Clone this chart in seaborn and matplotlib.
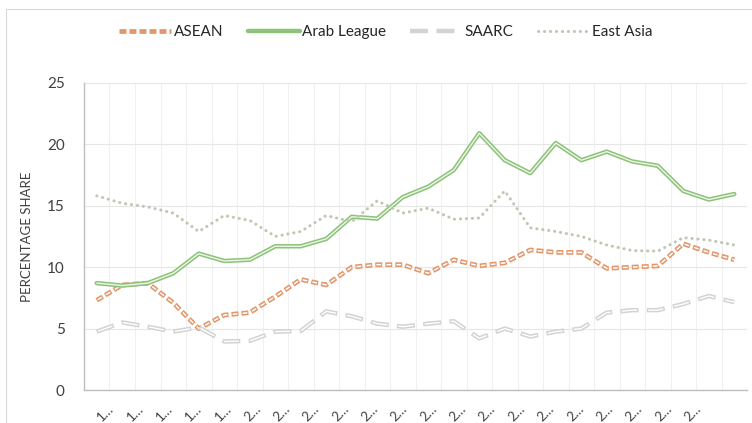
import numpy as np
import pandas as pd
import matplotlib
matplotlib.use("Agg")
import matplotlib.pyplot as plt
from matplotlib.patches import Rectangle
import seaborn as sns

# values (26 periods)
periods = list(range(26))
asean = [7.3, 8.55, 8.7, 7.1, 5.0, 6.1, 6.3, 7.6, 9.0, 8.55, 10.0, 10.2, 10.2,
         9.5, 10.6, 10.1, 10.35, 11.4, 11.2, 11.2, 9.9, 10.0, 10.1, 11.9, 11.2, 10.6]
arab_league = [8.7, 8.5, 8.7, 9.5, 11.1, 10.5, 10.6, 11.7, 11.7, 12.3, 14.1, 13.95, 15.7,
               16.55, 17.9, 20.9, 18.7, 17.65, 20.1, 18.7, 19.4, 18.6, 18.25, 16.2, 15.5, 15.95]
saarc = [4.75, 5.5, 5.15, 4.75, 5.1, 3.95, 4.0, 4.75, 4.8, 6.4, 6.0, 5.4, 5.15,
         5.4, 5.6, 4.2, 5.0, 4.35, 4.75, 5.0, 6.3, 6.5, 6.5, 7.0, 7.65, 7.15]
east_asia = [15.8, 15.2, 14.9, 14.4, 12.9, 14.2, 13.8, 12.5, 12.9, 14.2, 13.7, 15.4, 14.4,
             14.8, 13.9, 14.0, 16.2, 13.2, 12.9, 12.5, 11.8, 11.35, 11.3, 12.4, 12.2, 11.8]
tick_labels = ["1…"] * 5 + ["2…"] * 16

sns.set_theme(style="white")
plt.rcParams["font.family"] = ["Lato", "DejaVu Sans"]
plt.rcParams["lines.scale_dashes"] = False

fig = plt.figure(figsize=(7.52, 4.23), dpi=100)
ax = fig.add_axes([0.1117, 0.078, 0.8817, 0.7262])

# "double" lines: wide coloured stroke with a thin light stroke on top
styles = {
    "ASEAN": ("#E3966A", 3.4, "white", 1.1, (0, (5, 2.2)), (6.4, (3.4, 3.8)), asean),
    "Arab League": ("#8DC27A", 3.2, "#EEF6E8", 1.0, "-", "-", arab_league),
    "SAARC": ("#D3D3D3", 3.2, "white", 1.0, (0, (13, 6)), (18, (11, 8)), saarc),
}
for name, (col, lw, inner, ilw, ls, ils, vals) in styles.items():
    sns.lineplot(x=periods, y=vals, color=col, lw=lw, linestyle=ls,
                 dash_capstyle="butt", ax=ax, label=name)
    sns.lineplot(x=periods, y=vals, color=inner, lw=ilw, linestyle=ils,
                 dash_capstyle="butt", ax=ax)
    if name == "SAARC":
        sns.lineplot(x=periods, y=east_asia, color="#BFC7B2", lw=2.2,
                     linestyle=(0, (0.1, 4.2)), dash_capstyle="round",
                     solid_capstyle="round", ax=ax, label="East Asia")

ax.set_xlim(-0.5, 25.5)
ax.set_ylim(0, 25)
ax.set_yticks([0, 5, 10, 15, 20, 25])
ax.set_xticks(np.linspace(0.43, 23.45, len(tick_labels)))
ax.set_xticklabels(tick_labels, rotation=45, ha="right", rotation_mode="anchor",
                   fontsize=9.5, color="#404040")
ax.set_xticks(np.arange(26) + 0.5, minor=True)
ax.tick_params(axis="x", length=0, pad=9)
ax.tick_params(axis="y", length=0, pad=14, labelsize=11, labelcolor="#404040")
ax.grid(axis="y", which="major", color="#E6E6E6", lw=0.8)
ax.grid(axis="x", which="minor", color="#F0F0F0", lw=0.8)
ax.set_axisbelow(True)
for s in ["top", "right"]:
    ax.spines[s].set_visible(False)
for s in ["left", "bottom"]:
    ax.spines[s].set_color("#BFBFBF")
    ax.spines[s].set_linewidth(1.0)
ax.set_xlabel("")
ax.set_ylabel("PERCENTAGE SHARE", fontsize=9.5, color="#404040", labelpad=10)

handles, labels = ax.get_legend_handles_labels()
ax.legend(handles, labels, loc="center", bbox_to_anchor=(0.5 * (110 + 662) / 752, 1 - 32 / 423),
          bbox_transform=fig.transFigure, ncol=4, frameon=False, fontsize=11,
          handlelength=3.4, handletextpad=0.15, columnspacing=1.6, labelcolor="#262626")

fig.patches.append(Rectangle((0.008, -0.1), 1.2, 0.979 + 0.1, transform=fig.transFigure,
                             fill=False, edgecolor="#D9D9D9", lw=0.8))

fig.savefig("out.png", dpi=100)
